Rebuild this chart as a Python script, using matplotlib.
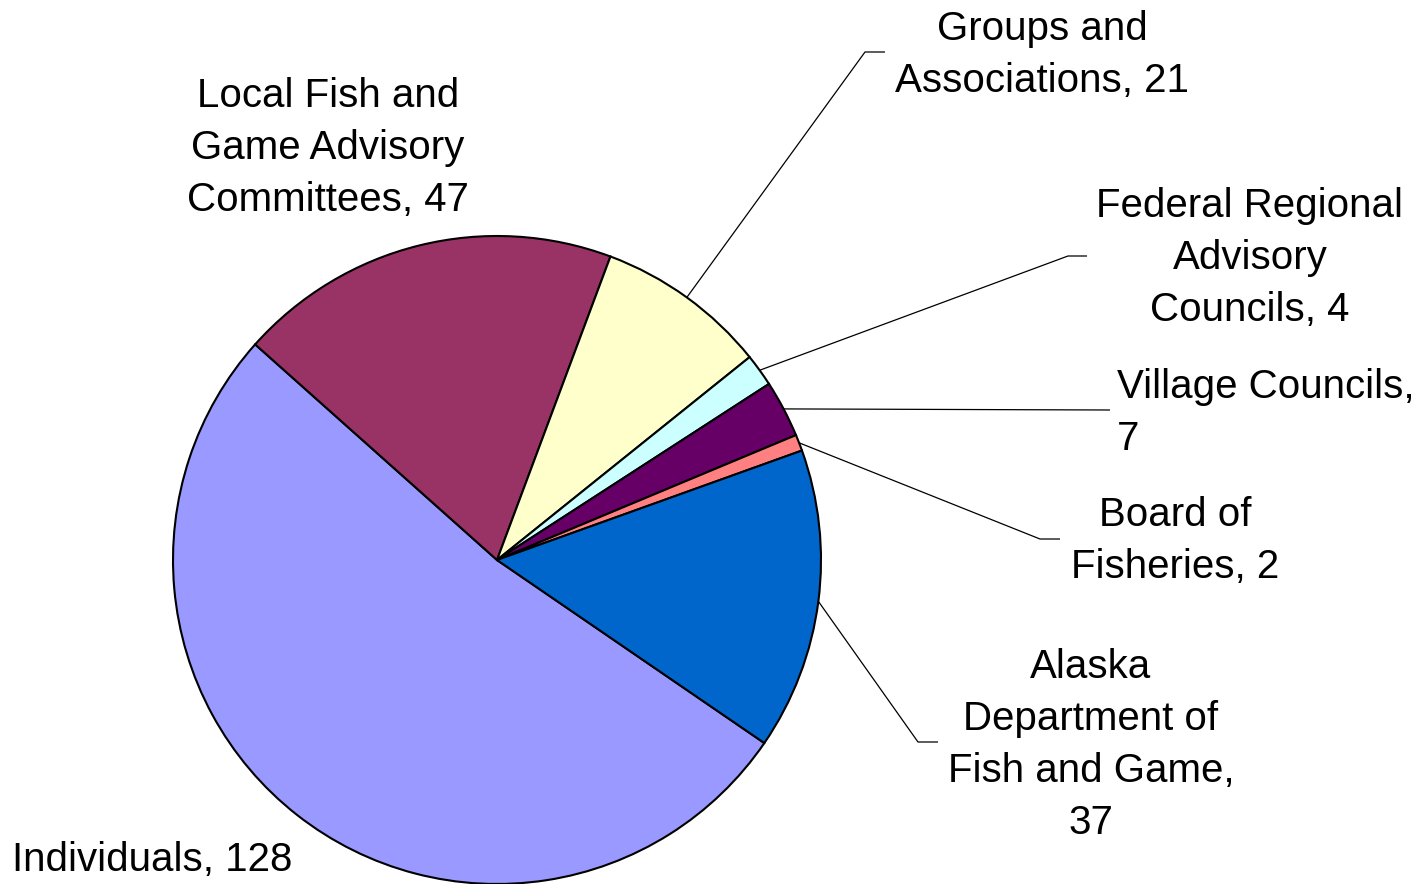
import matplotlib
matplotlib.use("Agg")
import matplotlib.pyplot as plt
import numpy as np

categories = ["Individuals", "Local Fish and Game Advisory Committees", "Groups and Associations",
              "Federal Regional Advisory Councils", "Village Councils", "Board of Fisheries",
              "Alaska Department of Fish and Game"]
values = [128, 47, 21, 4, 7, 2, 37]
label_texts = ["Individuals, 128", "Local Fish and\nGame Advisory\nCommittees, 47",
               "Groups and\nAssociations, 21", "Federal Regional\nAdvisory\nCouncils, 4",
               "Village Councils,\n7", "Board of\nFisheries, 2",
               "Alaska\nDepartment of\nFish and Game,\n37"]
colors = ["#9999FF", "#993366", "#FFFFCC", "#CCFFFF", "#660066", "#FF8080", "#0066CC"]

W, H = 1425, 884
fig = plt.figure(figsize=(W / 100, H / 100), dpi=100)
ax = fig.add_axes([0, 0, 1, 1])

cx, cy, R = 497, H - 560, 324
start = -34.4
wedges, _ = ax.pie(values, colors=colors, startangle=start, counterclock=False,
                   radius=R, center=(cx, cy),
                   wedgeprops=dict(edgecolor="black", linewidth=1.5))
ax.set_xlim(0, W)
ax.set_ylim(0, H)
ax.set_aspect("equal")
ax.axis("off")

plt.rcParams["font.family"] = ["Liberation Sans", "DejaVu Sans"]
fs = 29

# label layout: (text x, text y in pixel coords, ha, leader elbow points in pixel coords or None)
layout = [
    (152, 860, "center", None),
    (328, 148, "center", None),
    (1042, 55, "center", [(865, 52), (885, 52)]),
    (1250, 258, "center", [(1068, 256), (1087, 256)]),
    (1117, 413, "left", [(1110, 410)]),
    (1175, 541, "center", [(1040, 539), (1060, 539)]),
    (1091, 745, "center", [(918, 742), (938, 742)]),
]

for w, txt, (tx, ty, ha, pts) in zip(wedges, label_texts, layout):
    ax.text(tx, H - ty, txt, ha=ha, va="center", multialignment=ha,
            fontsize=fs, linespacing=1.47, family=["Liberation Sans", "DejaVu Sans"])
    if pts:
        th = np.deg2rad((w.theta1 + w.theta2) / 2)
        x0, y0 = cx + R * np.cos(th), cy + R * np.sin(th)
        xs = [x0] + [p[0] for p in pts]
        ys = [y0] + [H - p[1] for p in pts]
        ax.plot(xs, ys, color="black", linewidth=0.9, solid_capstyle="butt")

fig.savefig("out.png", dpi=100)
